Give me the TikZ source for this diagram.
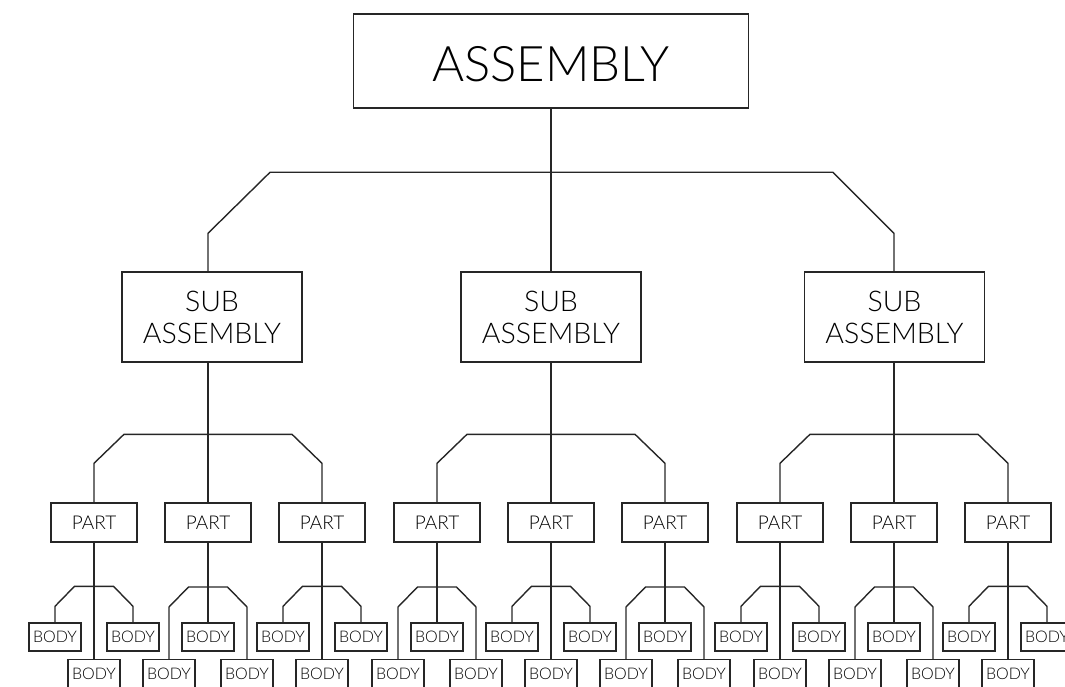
\documentclass[tikz,border=0pt]{standalone}
\usepackage{fontspec}
\setmainfont{Lato Light}
\begin{document}
\begin{tikzpicture}[x=1pt,y=-1pt]
\tikzset{
  conn/.style={draw=black!85, line width=1.4pt, line join=miter},
  bx/.style={draw=black!85, line width=1.4pt, fill=white, inner sep=0pt, align=center, text=black},
  asmbox/.style={bx, minimum width=395pt, minimum height=94pt, text height=41pt, text depth=0pt, font=\fontsize{49}{54}\selectfont},
  subbox/.style={bx, minimum width=180pt, minimum height=90pt, font=\fontsize{28.5}{32}\selectfont},
  partbox/.style={bx, minimum width=86pt, minimum height=39pt, font=\fontsize{19}{21}\selectfont},
  bodybox/.style={bx, minimum width=52pt, minimum height=28pt, font=\fontsize{16}{18}\selectfont},
  bodylow/.style={bodybox, minimum height=44pt, text depth=16pt, anchor=north}
}
\useasboundingbox (0,0) rectangle (1065,687);
\clip (0,0) rectangle (1065,687);

% top
\node[asmbox] (asm) at (551,61) {ASSEMBLY};
\node[subbox] (sub1) at (212,317) {SUB\\ASSEMBLY};
\node[subbox] (sub2) at (551,317) {SUB\\ASSEMBLY};
\node[subbox] (sub3) at (894.5,317) {SUB\\ASSEMBLY};

% parts
\foreach \i/\c in {1/94,2/208,3/322,4/437,5/551,6/665,7/780,8/894,9/1008}{
  \node[partbox] (p\i) at (\c,522.5) {PART};
}

% bodies: sides on top (odd parts)
\foreach \i/\c in {1/94,3/322,5/551,7/780,9/1008}{
  \node[bodybox] (b\i l) at ({\c-39},637) {BODY};
  \node[bodybox] (b\i r) at ({\c+39},637) {BODY};
  \node[bodylow] (b\i c) at (\c,659) {BODY};
  \draw[conn] (b\i l.north) -- ++(0,-16) -- ++(19.5,-20) -- ++(39,0) -- ++(19.5,20) -- (b\i r.north);
  \draw[conn] (p\i.south) -- (b\i c.north);
}
% bodies: sides below (even parts)
\foreach \i/\c in {2/208,4/437,6/665,8/894}{
  \node[bodybox] (b\i c) at (\c,637) {BODY};
  \node[bodylow] (b\i l) at ({\c-39},659) {BODY};
  \node[bodylow] (b\i r) at ({\c+39},659) {BODY};
  \draw[conn] (b\i l.north) -- ++(0,-52) -- ++(19.5,-20) -- ++(39,0) -- ++(19.5,20) -- (b\i r.north);
  \draw[conn] (p\i.south) -- (b\i c.north);
}

% sub -> parts
\draw[conn] (p1.north) -- ++(0,-39) -- ++(30,-29) -- ++(168,0) -- ++(30,29) -- (p3.north);
\draw[conn] (sub1.south -| p2.north) -- (p2.north);
\draw[conn] (p4.north) -- ++(0,-39) -- ++(30,-29) -- ++(168,0) -- ++(30,29) -- (p6.north);
\draw[conn] (sub2.south -| p5.north) -- (p5.north);
\draw[conn] (p7.north) -- ++(0,-39) -- ++(30,-29) -- ++(168,0) -- ++(30,29) -- (p9.north);
\draw[conn] (sub3.south -| p8.north) -- (p8.north);

% assembly -> subs
\draw[conn] (asm.south) -- (sub2.north);
\draw[conn] (sub1.north -| p2.north) -- ++(0,-38) -- ++(62,-61) -- ++(563,0) -- ++(61,61) -- (sub3.north -| p8.north);
\end{tikzpicture}
\end{document}
